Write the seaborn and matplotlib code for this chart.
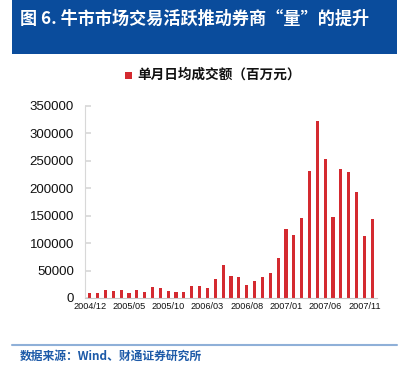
import matplotlib
matplotlib.use("Agg")
import matplotlib.pyplot as plt
import seaborn as sns
import pandas as pd
from matplotlib.patches import Rectangle
from matplotlib.lines import Line2D

months = ["2004/12","2005/01","2005/02","2005/03","2005/04","2005/05","2005/06","2005/07",
          "2005/08","2005/09","2005/10","2005/11","2005/12","2006/01","2006/02","2006/03",
          "2006/04","2006/05","2006/06","2006/07","2006/08","2006/09","2006/10","2006/11",
          "2006/12","2007/01","2007/02","2007/03","2007/04","2007/05","2007/06","2007/07",
          "2007/08","2007/09","2007/10","2007/11","2007/12"]
values = [9500, 9500, 15000, 13000, 14500, 8500, 14500, 10300, 20600, 18800, 13300, 10900,
          11500, 21800, 21200, 17600, 35200, 59500, 40700, 38200, 23700, 30900, 38800, 46100,
          72200, 126200, 115300, 145000, 232400, 322200, 253600, 148000, 235400, 230000,
          193000, 113500, 144400]
yticks = [0, 50000, 100000, 150000, 200000, 250000, 300000, 350000]
series_name = "单月日均成交额（百万元）"
title = "图 6. 牛市市场交易活跃推动券商“量”的提升"
source = "数据来源：Wind、财通证券研究所"

df = pd.DataFrame({"month": months, "value": values})

sns.set_theme(style="white")
plt.rcParams['font.family'] = ['Noto Sans CJK SC', 'DejaVu Sans']

W, H = 402, 365
fig = plt.figure(figsize=(W/100, H/100), dpi=100)
ax = fig.add_axes([85/W, 1-298/H, (377-85)/W, (298-106)/H])

bar_color = "#d42a30"
sns.barplot(data=df, x="month", y="value", color=bar_color, width=0.4,
            saturation=1, linewidth=0, ax=ax)
for p in ax.patches:
    p.set_edgecolor("none")
    p.set_facecolor(bar_color)

ax.set_ylim(0, 350000)
ax.set_xlim(-0.6, len(months)-0.4)
ax.set_yticks(yticks)
ax.set_yticklabels([str(v) for v in yticks], fontsize=9.5, color="#111111",
                   family=['Liberation Sans', 'DejaVu Sans'])
ax.set_xticks(range(0, len(months), 5))
ax.set_xticklabels([months[i] for i in range(0, len(months), 5)], fontsize=6.6,
                   color="#111111", family=['Liberation Sans', 'DejaVu Sans'])
ax.set_xlabel("")
ax.set_ylabel("")
for s in ["top", "right"]:
    ax.spines[s].set_visible(False)
ax.spines["left"].set_color("#d8d8d8")
ax.spines["bottom"].set_color("#c8c8c8")
ax.spines["left"].set_linewidth(0.8)
ax.spines["bottom"].set_linewidth(0.8)
ax.tick_params(axis="y", direction="in", length=4, color="#d8d8d8", pad=8, left=True)
ax.tick_params(axis="x", length=0, pad=3)

# Title banner
fig.patches.append(Rectangle((12/W, 1-54/H), (397-12)/W, 54/H, transform=fig.transFigure,
                             facecolor="#0a4c9c", edgecolor="none", zorder=0))
fig.text(20/W, 1-19/H, title, color="white", fontsize=12.3, fontweight="bold",
         va="center", ha="left")

# Legend
fig.patches.append(Rectangle((125/W, 1-79/H), 7/W, 7/H, transform=fig.transFigure,
                             facecolor=bar_color, edgecolor="none"))
fig.text(137/W, 1-75/H, series_name, color="#111111", fontsize=9.8, va="center",
         ha="left", fontweight="bold")

# Bottom line and source
fig.lines.append(Line2D([12/W, 397/W], [1-345/H, 1-345/H], transform=fig.transFigure,
                        color="#8fb0d8", linewidth=1.5))
fig.text(20/W, 1-356/H, source, color="#1d5aa8", fontsize=8.5, fontweight="bold",
         va="center", ha="left")

fig.savefig("out.png", dpi=100, facecolor="white")
